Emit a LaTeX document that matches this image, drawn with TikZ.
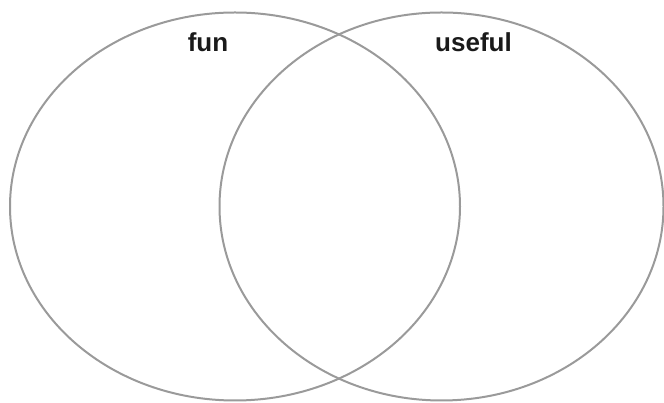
\documentclass[tikz,border=0pt]{standalone}
\usepackage{fontspec}
\setmainfont{Liberation Sans}
\usetikzlibrary{shapes.geometric}
\definecolor{setgray}{HTML}{9A9A9A}
\definecolor{labelink}{HTML}{1A1A1A}
\begin{document}
\begin{tikzpicture}[x=1pt, y=1pt,
    setline/.style={ellipse, draw=setgray, line width=2pt, inner sep=0pt},
    setlabel/.style={anchor=base, text=labelink, font=\fontsize{26}{30}\selectfont\bfseries}]
	% 1. 画布范围
	\useasboundingbox (0,0) rectangle (664,403);
	
	% 2. 两个集合
	\node[setline, minimum width=450pt, minimum height=388pt] (funset) at (235,196.5) {};
	\node[setline, minimum width=444pt, minimum height=388pt] (usefulset) at (441.5,196.5) {};
	
	% 3. 标签
	\node[setlabel] (funlabel) at (208,351) {fun};
	\node[setlabel] (usefullabel) at (473.5,351) {useful};
\end{tikzpicture}
\end{document}
